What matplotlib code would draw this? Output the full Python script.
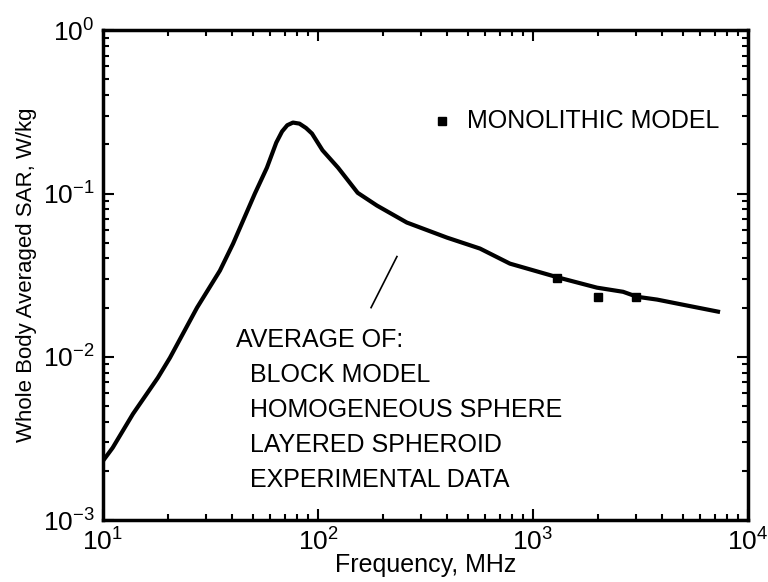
import matplotlib
matplotlib.use("Agg")
import matplotlib.pyplot as plt
import numpy as np

plt.rcParams['font.family'] = ['Liberation Sans', 'DejaVu Sans']
plt.rcParams['mathtext.fontset'] = 'custom'
plt.rcParams['mathtext.rm'] = 'Liberation Sans'

# average SAR curve
freq = [10, 11.1, 13.8, 18.0, 20.5, 27.4, 35.0, 40.3, 50.9, 57.9, 64.0, 68.1,
        72.0, 76.5, 82.0, 88.0, 93.8, 105, 124, 153, 188, 259, 398, 567, 781,
        1321, 1985, 2625, 3050, 3777, 5204, 7250]
sar = [0.0023, 0.00277, 0.00447, 0.00743, 0.00986, 0.0200, 0.0337, 0.0493,
       0.100, 0.144, 0.205, 0.240, 0.262, 0.272, 0.268, 0.252, 0.233, 0.184,
       0.144, 0.101, 0.0844, 0.0664, 0.0537, 0.0460, 0.0372, 0.0305, 0.0265,
       0.0250, 0.0233, 0.0224, 0.0206, 0.0189]

# monolithic model points
mono_freq = [1300, 2000, 3000]
mono_sar = [0.0305, 0.0233, 0.0233]

avg_lines = ["AVERAGE OF:", "  BLOCK MODEL", "  HOMOGENEOUS SPHERE",
             "  LAYERED SPHEROID", "  EXPERIMENTAL DATA"]

fig = plt.figure(figsize=(7.68, 5.82), dpi=100)
ax = fig.add_axes([0.134, 0.1065, 0.84, 0.8415])

ax.plot(freq, sar, color='black', lw=3, solid_joinstyle='round')
ax.plot(mono_freq, mono_sar, 's', color='black', ms=6)

ax.set_xscale('log')
ax.set_yscale('log')
ax.set_xlim(10, 1e4)
ax.set_ylim(1e-3, 1)

ax.tick_params(which='both', direction='in', top=True, right=True, width=1.5)
ax.tick_params(which='major', length=8, labelsize=19, pad=6)
ax.tick_params(which='minor', length=4)
for s in ax.spines.values():
    s.set_linewidth(2.5)

ax.set_xlabel("Frequency, MHz", fontsize=18, labelpad=-2)
ax.set_ylabel("Whole Body Averaged SAR, W/kg", fontsize=16, labelpad=4)

# legend entry
ax.plot([0.526], [0.814], 's', color='black', ms=6, transform=ax.transAxes)
ax.text(0.565, 0.814, "MONOLITHIC MODEL", transform=ax.transAxes,
        fontsize=18, va='center', ha='left')

# annotation
ax.plot([176.6, 233], [0.02, 0.0411], color='black', lw=1.2)
ax.text(0.207, 0.393, "\n".join(avg_lines), transform=ax.transAxes,
        fontsize=18, va='top', ha='left', linespacing=1.59)

fig.savefig("out.png", dpi=100)
